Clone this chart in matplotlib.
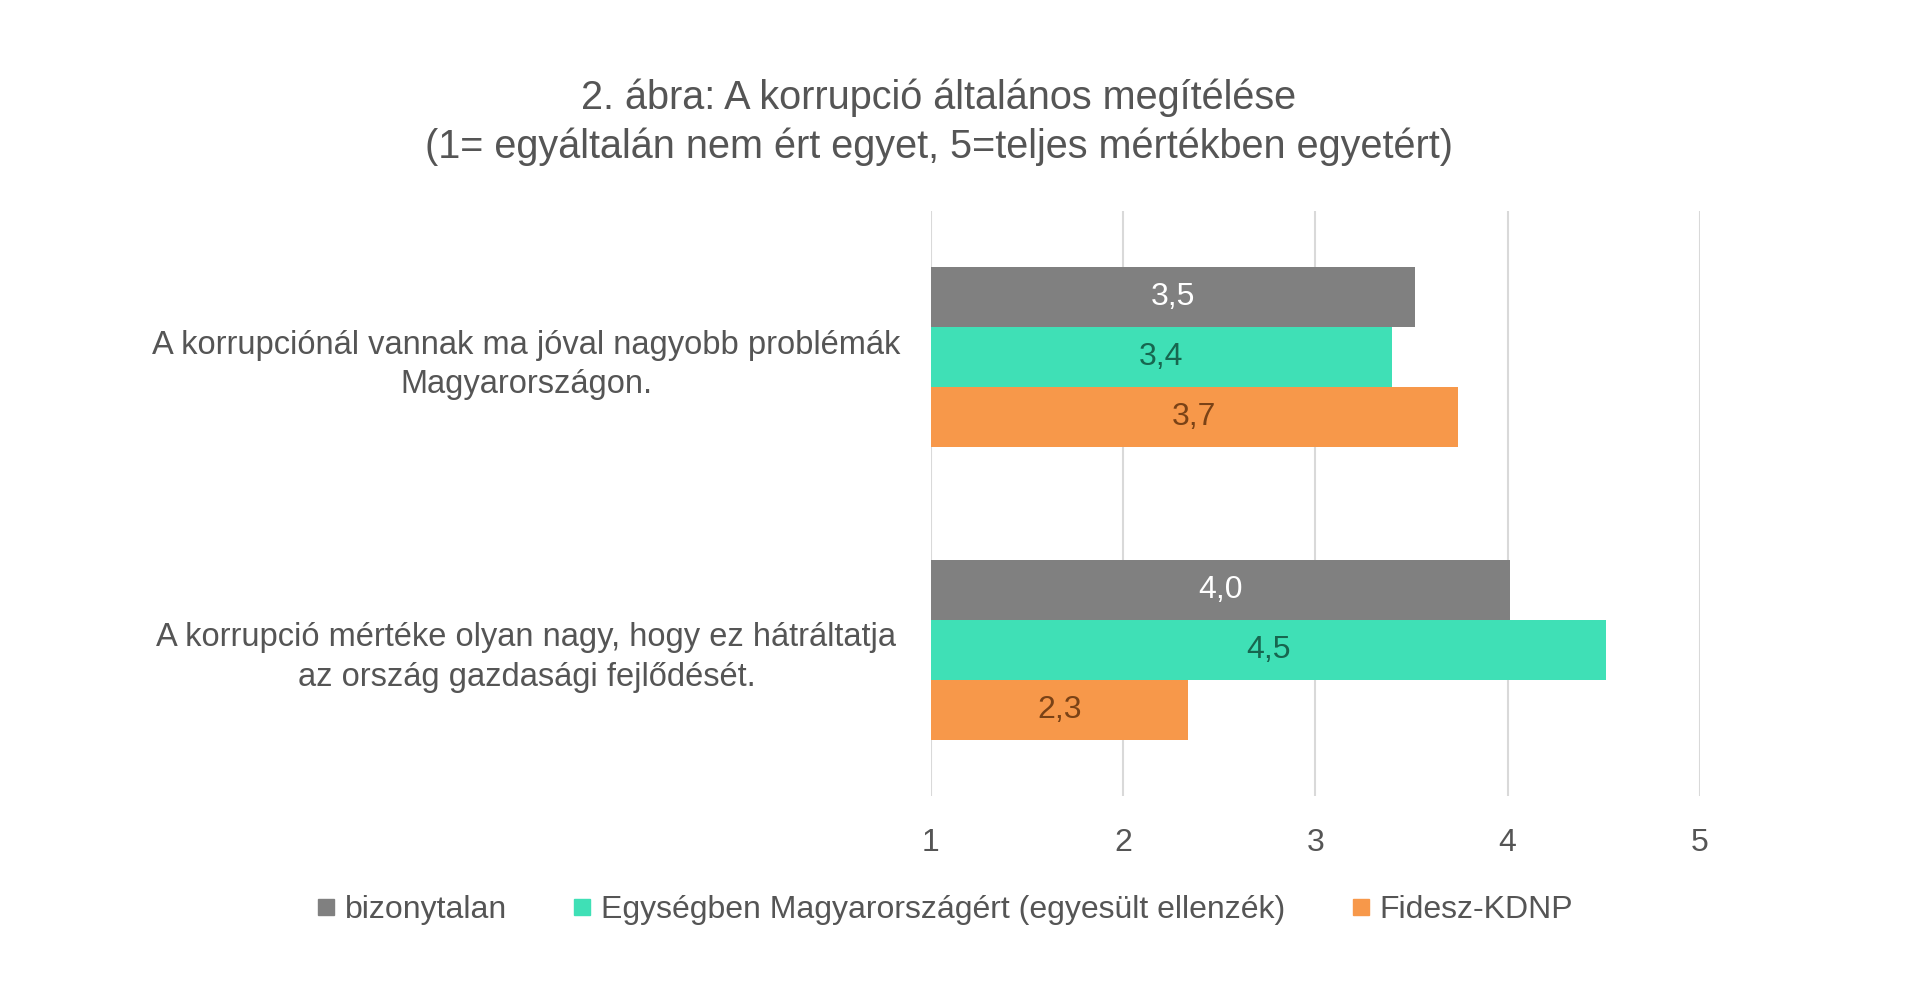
import matplotlib
matplotlib.use("Agg")
import matplotlib.pyplot as plt
import numpy as np
from matplotlib.lines import Line2D

plt.rcParams['font.family'] = ['Liberation Sans', 'DejaVu Sans']

title_lines = ["2. ábra: A korrupció általános megítélése",
               "(1= egyáltalán nem ért egyet, 5=teljes mértékben egyetért)"]
categories = ["A korrupciónál vannak ma jóval nagyobb problémák\nMagyarországon.",
              "A korrupció mértéke olyan nagy, hogy ez hátráltatja\naz ország gazdasági fejlődését."]
series_names = ["bizonytalan", "Egységben Magyarországért (egyesült ellenzék)", "Fidesz-KDNP"]
bizonytalan = [3.52, 4.01]
egyseg = [3.40, 4.51]
fidesz = [3.74, 2.34]
xticks = [1, 2, 3, 4, 5]

colors = ["#808080", "#3FE0B6", "#F7984A"]
label_colors = ["#FFFFFF", "#17664F", "#7A4216"]
text_grey = "#555555"

fig = plt.figure(figsize=(19.2, 9.89), dpi=100)
ax = fig.add_axes([0.4847, 0.1951, 0.4007, 0.5916])

y = np.arange(len(categories))
h = 0.205
offsets = [-h, 0, h]
for vals, off, c, lc in zip([bizonytalan, egyseg, fidesz], offsets, colors, label_colors):
    bars = ax.barh(y + off, np.array(vals) - 1, left=1, height=h, color=c, zorder=3)
    for b, v in zip(bars, vals):
        ax.text(b.get_x() + b.get_width() / 2, b.get_y() + b.get_height() / 2,
                f"{v:.1f}".replace(".", ","), ha="center", va="center",
                fontsize=23, color=lc, zorder=4)

ax.set_xlim(1, 5)
ax.set_ylim(1.5, -0.5)
ax.set_xticks(xticks)
ax.set_xticklabels([str(t) for t in xticks], fontsize=23, color=text_grey)
ax.tick_params(axis="x", length=0, pad=23)
ax.set_yticks(y)
ax.set_yticklabels(categories, fontsize=23.5, color=text_grey, ha="center",
                   multialignment="center", linespacing=1.35)
ax.tick_params(axis="y", length=0, pad=291)
ax.grid(axis="x", color="#D9D9D9", linewidth=1.5, zorder=0)
for s in ax.spines.values():
    s.set_visible(False)

fig.text(0.4889, 1 - 98 / 989, title_lines[0], ha="center", va="center", fontsize=28.5, color=text_grey)
fig.text(0.4889, 1 - 147 / 989, title_lines[1], ha="center", va="center", fontsize=28.5, color=text_grey)

handles = [Line2D([], [], marker="s", linestyle="none", markersize=11, color=c) for c in colors]
leg = fig.legend(handles, series_names, loc="center", bbox_to_anchor=(0.492, 1 - 910 / 989),
                 ncol=3, frameon=False, fontsize=23, handletextpad=0.3, columnspacing=2.05,
                 handlelength=0.6)
for t in leg.get_texts():
    t.set_color(text_grey)

fig.savefig("out.png", dpi=100, facecolor="white")
